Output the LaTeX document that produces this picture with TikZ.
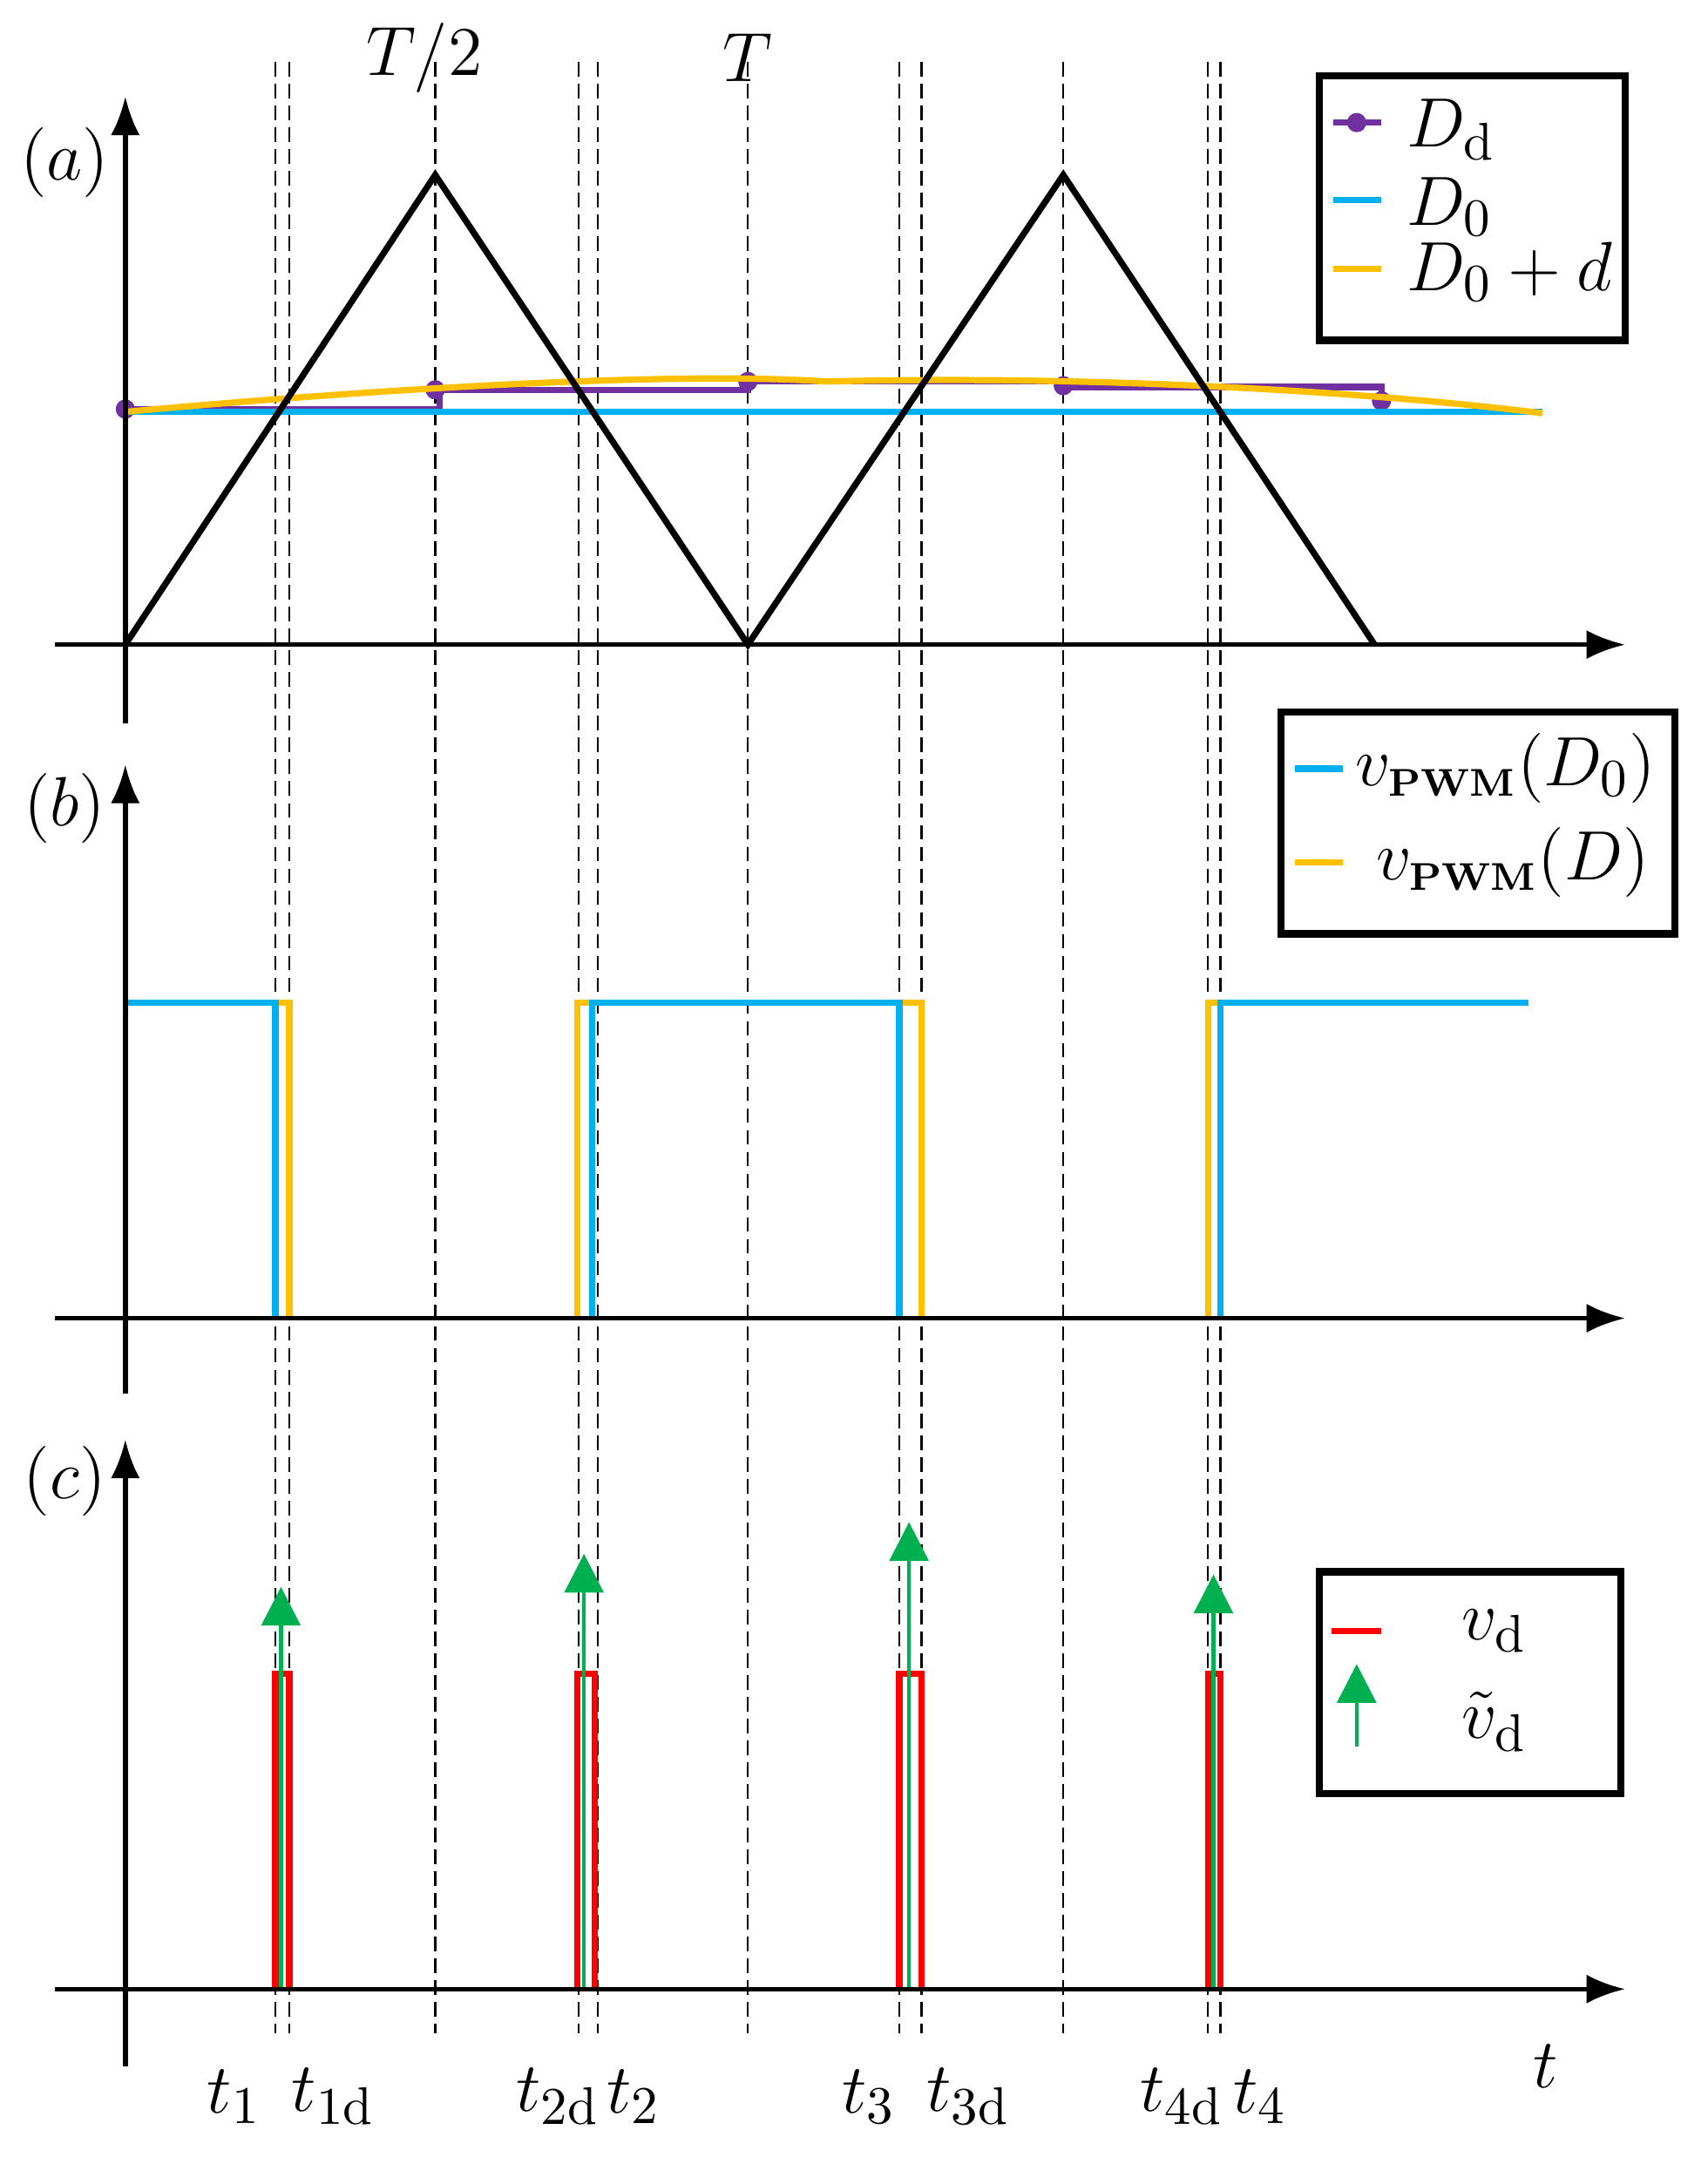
\documentclass[tikz,border=0pt]{standalone}
\usepackage{amsmath}
\begin{document}
\fontsize{15}{18}\selectfont
\begin{tikzpicture}[x=0.01cm,y=-0.01cm,
 ax/.style={line width=1pt,-{Latex[length=8pt,width=6pt]}},
 dsh/.style={line width=0.45pt,dash pattern=on 3pt off 1.5pt},
 blu/.style={color={rgb,255:red,0;green,176;blue,240},line width=1.3pt},
 org/.style={color={rgb,255:red,255;green,192;blue,0},line width=1.3pt},
 pur/.style={color={rgb,255:red,112;green,48;blue,160},line width=1.3pt},
 rd/.style={color=red,line width=1.3pt},
 grn/.style={color={rgb,255:red,0;green,176;blue,80},line width=0.8pt},
 garr/.style={grn,-{Triangle[length=8pt,width=8pt]}},
 lbox/.style={draw,line width=1.5pt}]
\usetikzlibrary{arrows.meta}
\useasboundingbox (0,0) rectangle (1240,1571);
% dashed verticals
\foreach \x in {200,210,316,420,434,543,653,669,772,877,886}
  \draw[dsh] (\x,45) -- (\x,1476);
% panel a
\draw[pur] (91,297) -- (319,297) -- (319,283) -- (543,283) -- (543,277) -- (772,277) -- (772,281) -- (1003,281) -- (1003,291);
\foreach \p in {(91,297),(316,283),(543,277),(772,280),(1003,291)}
  \fill[color={rgb,255:red,112;green,48;blue,160}] \p circle (7);
\draw[blu] (91,299) -- (1120,299);
\draw[org] (91,299) .. controls (300,280) and (500,270) .. (600,277) .. controls (800,272) and (1000,285) .. (1120,300);
\draw[line width=1.3pt] (91,468) -- (316,127) -- (543,468) -- (772,127) -- (998,468);
\draw[ax] (40,468) -- (1180,468);
\draw[ax] (91,525) -- (91,70);
% panel b
\draw[org] (91,728) -- (210,728) -- (210,957);
\draw[org] (419,957) -- (419,728) -- (669,728) -- (669,957);
\draw[org] (877,957) -- (877,728) -- (1110,728);
\draw[blu] (91,728) -- (200,728) -- (200,957);
\draw[blu] (430,957) -- (430,728) -- (653,728) -- (653,957);
\draw[blu] (886,957) -- (886,728) -- (1110,728);
\draw[ax] (40,957) -- (1180,957);
\draw[ax] (91,1012) -- (91,555);
% panel c
\foreach \a/\b in {200/210,419/432,653/669,877/886}
  \draw[rd] (\a,1444) -- (\a,1215) -- (\b,1215) -- (\b,1444);
\foreach \x/\y in {204/1152,424/1128,660/1105,881/1143}
  \draw[garr] (\x,1444) -- (\x,\y);
\draw[ax] (40,1444) -- (1180,1444);
\draw[ax] (91,1500) -- (91,1045);
% labels
\node (lT2) at (308,42) {$T/2$};
\node (lT) at (543,42) {$T$};
\node (la) at (47,118) {$(a)$};
\node (lb) at (47,587) {$(b)$};
\node (lc) at (47,1075) {$(c)$};
\node (lt) at (1122,1500) {$t$};
\node (t1) at (170,1522) {$t_1$};
\node (t1d) at (242,1522) {$t_{1\mathrm{d}}$};
\node (t2d) at (405,1522) {$t_{2\mathrm{d}}$};
\node (t2) at (460,1522) {$t_2$};
\node (t3) at (631,1522) {$t_3$};
\node (t3d) at (703,1522) {$t_{3\mathrm{d}}$};
\node (t4d) at (858,1522) {$t_{4\mathrm{d}}$};
\node (t4) at (915,1522) {$t_4$};
% legend a
\draw[lbox] (958,55) rectangle (1180,247);
\draw[pur] (968,89) -- (1003,89);
\fill[color={rgb,255:red,112;green,48;blue,160}] (985,89) circle (7);
\node[anchor=west] (ld) at (1003,94) {$D_{\mathrm{d}}$};
\draw[blu] (968,145) -- (1003,145);
\node[anchor=west] (l0) at (1003,150) {$D_0$};
\draw[org] (968,195) -- (1003,195);
\node[anchor=west] (l0d) at (1003,197) {$D_0+d$};
% legend b
\draw[lbox] (930,517) rectangle (1216,678);
\draw[blu] (940,558) -- (975,558);
\node[anchor=west,inner sep=1pt] (lvb) at (980,558) {$v_{\text{\bfseries\footnotesize PWM}}(D_0)$};
\draw[org] (940,626) -- (975,626);
\node[anchor=west,inner sep=1pt] (lvo) at (995,626) {$v_{\text{\bfseries\footnotesize PWM}}(D)$};
% legend c
\draw[lbox] (958,1141) rectangle (1177,1302);
\draw[rd] (967,1184) -- (1003,1184);
\node[anchor=west] (lvd) at (1043,1184) {$v_{\mathrm{d}}$};
\draw[garr] (985,1268) -- (985,1208);
\node[anchor=west] (lvt) at (1043,1250) {$\tilde v_{\mathrm{d}}$};
\end{tikzpicture}
\end{document}
